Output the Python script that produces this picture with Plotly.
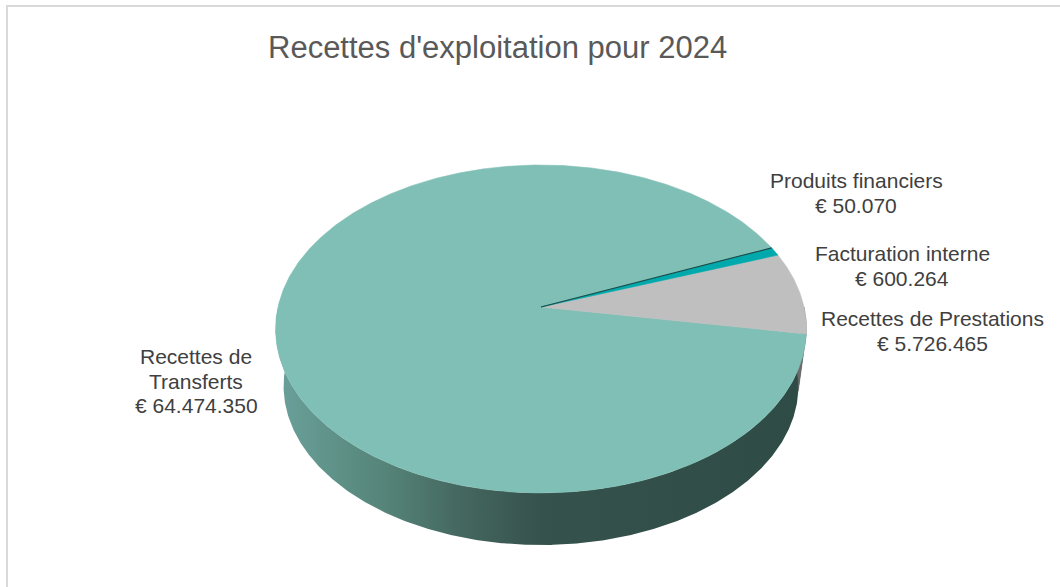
import numpy as np
import plotly.graph_objects as go

# Data
categories = ["Recettes de Transferts", "Recettes de Prestations",
              "Facturation interne", "Produits financiers"]
values = [64474350, 5726465, 600264, 50070]

# Label text split over lines (value line is appended from the data)
label_lines = [["Recettes de", "Transferts"],
               ["Recettes de Prestations"],
               ["Facturation interne"],
               ["Produits financiers"]]

# Styling
top_colors = ["#80bfb6", "#bfbfbf", "#00a9ab", "#1f4c48"]
wall_colors = [None, "#6b6b6b", "#00696b", "#132f2d"]
wall_gradient = [[0.0, "#6aa19b"], [0.2, "#568579"], [0.35, "#44675f"],
                 [0.5, "#36524c"], [1.0, "#2f4b45"]]
label_pos = [(196, 363), (932, 325), (902, 260), (856, 187)]  # centre x, first baseline
LINE_GAP = 24.5
TEXT_COLOR = "#404040"
FONT = "Liberation Sans, Arial, sans-serif"
LABEL_SIZE = 21

# 3-D pie geometry (page pixels)
W, H = 1060, 587
CX, CY = 541, 307          # projected pie centre
RX, RY = 263, 161          # projected radii of the top face
PERSP = 0.134              # perspective foreshortening
BASE_SCALE = 0.97          # bottom rim is slightly further away
BASE_DROP = 57.7           # thickness of the pie
START_DEG = 23.0           # angle where the first slice begins (counter-clockwise)


def rim(phi_deg, base=False):
    p = np.radians(phi_deg)
    u, v = np.cos(p), np.sin(p)
    w = 1 + PERSP * v
    s = BASE_SCALE if base else 1.0
    dy = BASE_DROP if base else 0.0
    return CX + RX * s * u / w, CY + dy - RY * s * v / w


def arc(a0, a1, base=False):
    n = max(3, int(abs(a1 - a0) * 3))
    ang = np.linspace(a0, a1, n)
    return rim(ang, base)


total = float(sum(values))
bounds = START_DEG + 360.0 * np.concatenate([[0], np.cumsum(values)]) / total

fig = go.Figure()

# Side wall (front half only), drawn before the top faces
for i in range(len(values)):
    a0, a1 = bounds[i], bounds[i + 1]
    for shift in (-360, 0, 360):
        lo, hi = max(a0 + shift, 180.0), min(a1 + shift, 360.0)
        if hi <= lo:
            continue
        tx, ty = arc(lo, hi)
        bx, by = arc(hi, lo, base=True)
        xs = np.concatenate([tx, bx, tx[:1]])
        ys = np.concatenate([ty, by, ty[:1]])
        if wall_colors[i] is None:
            fig.add_trace(go.Scatter(
                x=xs, y=ys, mode="lines", fill="toself",
                line=dict(width=0), fillgradient=dict(type="horizontal", colorscale=wall_gradient),
                hoverinfo="skip", showlegend=False))
        else:
            fig.add_trace(go.Scatter(
                x=xs, y=ys, mode="lines", fill="toself",
                line=dict(width=0.5, color=wall_colors[i]), fillcolor=wall_colors[i],
                hoverinfo="skip", showlegend=False))

# Top faces
for i in range(len(values)):
    a0, a1 = bounds[i], bounds[i + 1]
    rx_, ry_ = arc(a0, a1)
    xs = np.concatenate([[CX], rx_, [CX]])
    ys = np.concatenate([[CY], ry_, [CY]])
    fig.add_trace(go.Scatter(
        x=xs, y=ys, mode="lines", fill="toself",
        line=dict(width=1.2 if values[i] / total < 0.005 else 0.6, color=top_colors[i]),
        fillcolor=top_colors[i], hoverinfo="text", text=categories[i], showlegend=False))

# Data labels
annotations = []
for i, lines in enumerate(label_lines):
    cx, base = label_pos[i]
    all_lines = lines + ["€ " + f"{values[i]:,}".replace(",", ".")]
    for j, txt in enumerate(all_lines):
        annotations.append(dict(
            x=cx, y=base + j * LINE_GAP - 0.3 * LABEL_SIZE, xref="x", yref="y",
            text=txt, showarrow=False, xanchor="center", yanchor="middle",
            font=dict(family=FONT, size=LABEL_SIZE, color=TEXT_COLOR)))

# Title
annotations.append(dict(
    x=497, y=57 - 0.3 * 31, xref="x", yref="y", text="Recettes d'exploitation pour 2024",
    showarrow=False, xanchor="center", yanchor="middle",
    font=dict(family=FONT, size=31, color="#595959")))

fig.update_layout(
    width=W, height=H,
    margin=dict(l=0, r=0, t=0, b=0),
    paper_bgcolor="white", plot_bgcolor="white",
    xaxis=dict(range=[0, W], visible=False, fixedrange=True),
    yaxis=dict(range=[H, 0], visible=False, fixedrange=True),
    annotations=annotations,
    shapes=[dict(type="rect", xref="x", yref="y", x0=7, y0=6, x1=W + 5, y1=H + 5,
                 line=dict(color="#d9d9d9", width=2), fillcolor="rgba(0,0,0,0)")],
    showlegend=False,
)

fig.write_html("out.html")
